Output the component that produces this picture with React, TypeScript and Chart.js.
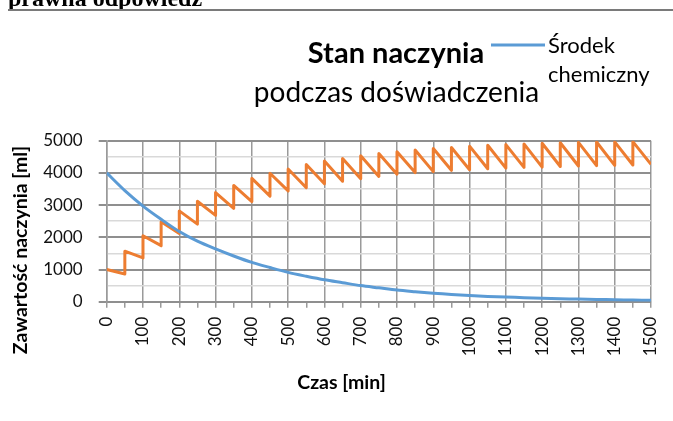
import React, { useEffect, useRef } from "react";
import { Chart, registerables } from "chart.js";
Chart.register(...registerables);

// ---- Data ----
const TITLE = "Stan naczynia";
const SUBTITLE = "podczas doświadczenia";
const BLUE_LABEL = "Środek chemiczny";
const ORANGE_LABEL = "Zawartość naczynia";
const X_TITLE = "Czas [min]";
const Y_TITLE = "Zawartość naczynia [ml]";
const HEADER_TEXT = "prawna odpowiedź";

const BLUE_TIMES = [0, 50, 100, 150, 200, 250, 300, 350, 400, 450, 500, 550, 600, 650, 700, 750, 800, 850, 900, 950, 1000, 1050, 1100, 1150, 1200, 1250, 1300, 1350, 1400, 1450, 1500];
const BLUE_VALUES = [4000, 3450, 2970, 2560, 2180, 1880, 1640, 1420, 1220, 1060, 910, 790, 680, 590, 500, 430, 360, 310, 265, 225, 195, 165, 145, 125, 105, 90, 80, 70, 60, 50, 45];

const ORANGE_START = [0, 1000];
const DOSE_TIMES = [50, 100, 150, 200, 250, 300, 350, 400, 450, 500, 550, 600, 650, 700, 750, 800, 850, 900, 950, 1000, 1050, 1100, 1150, 1200, 1250, 1300, 1350, 1400, 1450];
const BEFORE_DOSE = [860, 1360, 1740, 2120, 2410, 2680, 2900, 3110, 3280, 3440, 3540, 3660, 3740, 3820, 3890, 3960, 4010, 4040, 4080, 4100, 4130, 4150, 4170, 4180, 4200, 4215, 4225, 4235, 4245];
const AFTER_DOSE = [1570, 2050, 2480, 2820, 3120, 3390, 3610, 3830, 3990, 4120, 4260, 4370, 4450, 4530, 4600, 4660, 4710, 4760, 4790, 4830, 4860, 4880, 4900, 4920, 4935, 4950, 4960, 4965, 4970];
const ORANGE_END = [1500, 4265];

const X_MIN = 0, X_MAX = 1500, X_STEP = 50, X_LABEL_STEP = 100;
const Y_MIN = 0, Y_MAX = 5000, Y_STEP = 500, Y_LABEL_STEP = 1000;

const BLUE = "#5B9BD5";
const ORANGE = "#ED7D31";
const FONT = "Lato, 'Open Sans', sans-serif";

export default function App() {
  const ref = useRef<HTMLCanvasElement | null>(null);

  useEffect(() => {
    if (!ref.current) return;
    const orangeData: { x: number; y: number }[] = [{ x: ORANGE_START[0], y: ORANGE_START[1] }];
    DOSE_TIMES.forEach((t, i) => {
      orangeData.push({ x: t, y: BEFORE_DOSE[i] });
      orangeData.push({ x: t, y: AFTER_DOSE[i] });
    });
    orangeData.push({ x: ORANGE_END[0], y: ORANGE_END[1] });
    const blueData = BLUE_TIMES.map((t, i) => ({ x: t, y: BLUE_VALUES[i] }));

    const textPlugin = {
      id: "texts",
      afterDraw(chart: any) {
        const ctx = chart.ctx as CanvasRenderingContext2D;
        ctx.save();
        ctx.fillStyle = "#000";
        ctx.textBaseline = "alphabetic";
        ctx.textAlign = "center";
        ctx.font = `bold 29px ${FONT}`;
        ctx.fillText(TITLE, 396, 63);
        ctx.font = `28px ${FONT}`;
        ctx.fillText(SUBTITLE, 396.5, 101.5);
        // legend (blue series only)
        const ds = chart.data.datasets[0];
        ctx.strokeStyle = ds.borderColor;
        ctx.lineWidth = 3;
        ctx.beginPath();
        ctx.moveTo(491, 45);
        ctx.lineTo(545, 45);
        ctx.stroke();
        ctx.textAlign = "left";
        ctx.font = `22px ${FONT}`;
        const parts = String(ds.label).split(" ");
        ctx.fillText(parts[0], 548, 53);
        ctx.fillText(parts.slice(1).join(" "), 548, 82);
        // axis titles
        ctx.textAlign = "center";
        ctx.textBaseline = "middle";
        ctx.font = `bold 19.5px ${FONT}`;
        ctx.fillText(X_TITLE, 341.5, 383);
        ctx.translate(21, 250);
        ctx.rotate(-Math.PI / 2);
        ctx.fillText(Y_TITLE, 0, 0);
        ctx.restore();
      },
    };

    const chart = new Chart(ref.current, {
      type: "line",
      data: {
        datasets: [
          {
            label: BLUE_LABEL,
            data: blueData,
            borderColor: BLUE,
            backgroundColor: BLUE,
            borderWidth: 3,
            pointRadius: 0,
            tension: 0.3,
            fill: false,
          },
          {
            label: ORANGE_LABEL,
            data: orangeData,
            borderColor: ORANGE,
            backgroundColor: ORANGE,
            borderWidth: 3,
            pointRadius: 0,
            tension: 0,
            borderJoinStyle: "round",
            fill: false,
          },
        ],
      },
      options: {
        responsive: false,
        animation: false,
        layout: { padding: { top: 140.7, right: 22, left: 0, bottom: 0 } },
        plugins: {
          legend: { display: false },
          title: { display: false },
          tooltip: { enabled: false },
        },
        scales: {
          x: {
            type: "linear",
            min: X_MIN,
            max: X_MAX,
            afterFit(scale: any) {
              scale.height = 119.3;
              scale.paddingLeft = 0;
              scale.paddingRight = 0;
            },
            ticks: {
              stepSize: X_STEP,
              autoSkip: false,
              minRotation: 90,
              maxRotation: 90,
              padding: 9,
              color: "#111",
              font: { family: FONT, size: 17 },
              callback: (v: any) => (Number(v) % X_LABEL_STEP === 0 ? String(v) : ""),
            },
            grid: {
              color: (c: any) => (c.tick && c.tick.value % X_LABEL_STEP === 0 ? "#9a9a9a" : "rgba(0,0,0,0)"),
              tickColor: "#9a9a9a",
              lineWidth: 1.5,
              tickLength: 6,
            },
            border: { display: true, color: "#8f8f8f", width: 2 },
          },
          y: {
            type: "linear",
            min: Y_MIN,
            max: Y_MAX,
            afterFit(scale: any) {
              scale.width = 106.7;
              scale.paddingTop = 0;
              scale.paddingBottom = 0;
            },
            ticks: {
              stepSize: Y_STEP,
              autoSkip: false,
              padding: 16,
              color: "#111",
              font: { family: FONT, size: 17 },
              callback: (v: any) => (Number(v) % Y_LABEL_STEP === 0 ? String(v) : ""),
            },
            grid: {
              color: (c: any) => (c.tick && c.tick.value % Y_LABEL_STEP === 0 ? "#8f8f8f" : "#d9d9d9"),
              tickColor: (c: any) => (c.tick && c.tick.value % Y_LABEL_STEP === 0 ? "#8f8f8f" : "rgba(0,0,0,0)"),
              lineWidth: (c: any) => (c.tick && c.tick.value % Y_LABEL_STEP === 0 ? 2 : 1.5),
              tickLength: 8,
            },
            border: { display: true, color: "#9a9a9a", width: 1.5 },
          },
        },
      },
      plugins: [textPlugin],
    } as any);
    return () => chart.destroy();
  }, []);

  return (
    <div style={{ position: "absolute", left: 0, top: 0, width: 673, height: 421, overflow: "hidden", background: "#fff" }}>
      <canvas ref={ref} width={673} height={421} style={{ position: "absolute", left: 0, top: 0, width: 673, height: 421 }} />
      <div
        style={{
          position: "absolute",
          left: 8,
          top: -13.6,
          fontFamily: "'Liberation Serif', 'Times New Roman', serif",
          fontWeight: "bold",
          fontSize: 24,
          lineHeight: "24px",
          whiteSpace: "nowrap",
          color: "#000",
        }}
      >
        {HEADER_TEXT}
      </div>
      <div style={{ position: "absolute", left: 8, top: 9, width: 665, height: 1.5, background: "#7a7a7a" }} />
    </div>
  );
}
